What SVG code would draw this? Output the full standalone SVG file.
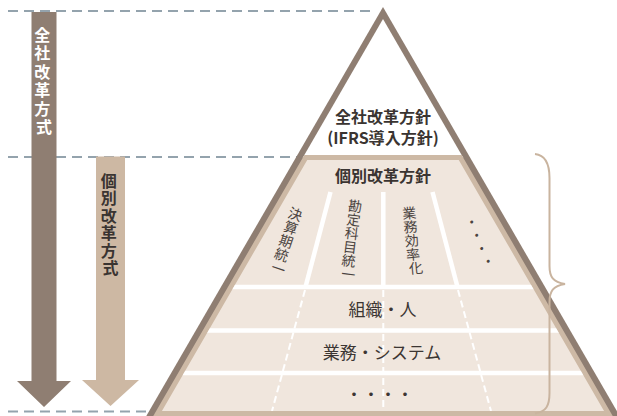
<svg xmlns="http://www.w3.org/2000/svg" width="617" height="416" viewBox="0 0 617 416">
  <style>
    .guide { fill: none; stroke: #94a3ad; stroke-width: 2; stroke-dasharray: 10 6; }
    .jp { font-family: 'Noto Sans CJK JP', 'Noto Sans', sans-serif; }
    .head { font-size: 16px; font-weight: bold; fill: #3a3431; text-anchor: middle; }
    .col { font-size: 14px; fill: #4a4340; text-anchor: middle; }
    .row { font-size: 17px; fill: #3c3633; text-anchor: middle; }
    .sep { stroke: #ffffff; stroke-width: 4.5; fill: none; }
    .sepdash { stroke: #ffffff; stroke-width: 2; stroke-dasharray: 7 4; fill: none; }
  </style>
  <defs>
    <clipPath id="inner">
      <polygon points="307.2,160 458.8,160 604,411 162,411"/>
    </clipPath>
  </defs>

  <g id="guides">
    <line class="guide" x1="8" y1="11" x2="371" y2="11"/>
    <line class="guide" x1="8" y1="157" x2="297" y2="157"/>
    <line class="guide" x1="8" y1="411.5" x2="150" y2="411.5"/>
  </g>

  <g id="arrow-zensha">
    <polygon points="31.5,12 56.5,12 56.5,381 71,381 44,407 17,381 31.5,381" fill="#8f7e72"/>
    <text class="jp head" style="fill:#ffffff">
      <tspan x="44" y="41">全</tspan>
      <tspan x="44" y="59.4">社</tspan>
      <tspan x="44" y="77.8">改</tspan>
      <tspan x="44" y="96.2">革</tspan>
      <tspan x="44" y="114.6">方</tspan>
      <tspan x="44" y="133">式</tspan>
    </text>
  </g>

  <g id="arrow-kobetsu">
    <polygon points="96,156.5 125,156.5 125,380 139,380 110.5,406 82,380 96,380" fill="#cdb8a3"/>
    <text class="jp head">
      <tspan x="110.5" y="187">個</tspan>
      <tspan x="110.5" y="204.4">別</tspan>
      <tspan x="110.5" y="221.8">改</tspan>
      <tspan x="110.5" y="239.2">革</tspan>
      <tspan x="110.5" y="256.6">方</tspan>
      <tspan x="110.5" y="274">式</tspan>
    </text>
  </g>

  <g id="pyramid">
    <polygon points="383,7 619.7,416 146.3,416" fill="#8f7e72"/>
    <polygon points="383,19 463.4,158 302.6,158" fill="#ffffff"/>
    <polygon points="305.8,157.5 460.2,157.5 608.4,413.5 157.6,413.5" fill="#f0e6dd" stroke="#cdb9a5" stroke-width="5" stroke-linejoin="miter"/>
  </g>

  <g id="connectors" clip-path="url(#inner)">
    <line class="sep" x1="150" y1="287" x2="620" y2="287"/>
    <line class="sep" x1="150" y1="330.5" x2="620" y2="330.5"/>
    <line class="sep" x1="150" y1="373" x2="620" y2="373"/>
    <line class="sep" x1="330.5" y1="192" x2="305.5" y2="287"/>
    <line class="sep" x1="383.3" y1="192" x2="383.3" y2="287"/>
    <line class="sep" x1="432.5" y1="192" x2="457.5" y2="287"/>
    <line class="sepdash" x1="305" y1="290" x2="272" y2="411"/>
    <line class="sepdash" x1="383.3" y1="290" x2="383.3" y2="411"/>
    <line class="sepdash" x1="458" y1="290" x2="491" y2="411"/>
  </g>

  <g id="top-policy">
    <text class="jp head" x="383" y="122.8">全社改革方針</text>
    <text class="jp head" x="383" y="144">(IFRS導入方針)</text>
  </g>

  <g id="individual-policy">
    <text class="jp head" x="383" y="181.7">個別改革方針</text>
  </g>

  <g id="col-kessanki" transform="translate(296.7,215) rotate(18.8)">
    <text class="jp col">
      <tspan x="0" y="5">決</tspan>
      <tspan x="0" y="19.3">算</tspan>
      <tspan x="0" y="33.6">期</tspan>
      <tspan x="0" y="47.9">統</tspan>
      <tspan x="0" y="62.2">一</tspan>
    </text>
  </g>

  <g id="col-kanjo" transform="translate(356.7,206.7) rotate(7)">
    <text class="jp col">
      <tspan x="0" y="5">勘</tspan>
      <tspan x="0" y="18.7">定</tspan>
      <tspan x="0" y="32.4">科</tspan>
      <tspan x="0" y="46.1">目</tspan>
      <tspan x="0" y="59.8">統</tspan>
      <tspan x="0" y="73.5">一</tspan>
    </text>
  </g>

  <g id="col-gyomu" transform="translate(410.7,213.3) rotate(-5.5)">
    <text class="jp col">
      <tspan x="0" y="5">業</tspan>
      <tspan x="0" y="18.8">務</tspan>
      <tspan x="0" y="32.6">効</tspan>
      <tspan x="0" y="46.4">率</tspan>
      <tspan x="0" y="60.2">化</tspan>
    </text>
  </g>

  <g id="col-etc" transform="translate(473.3,221.7) rotate(-20.6)">
    <text class="jp col">
      <tspan x="0" y="5">・</tspan>
      <tspan x="0" y="19.2">・</tspan>
      <tspan x="0" y="33.4">・</tspan>
      <tspan x="0" y="47.6">・</tspan>
    </text>
  </g>

  <g id="row-soshiki">
    <text class="jp row" x="382.5" y="316">組織・人</text>
  </g>
  <g id="row-system">
    <text class="jp row" x="382" y="359">業務・システム</text>
  </g>
  <g id="row-etc">
    <text class="jp row" x="379.5" y="401">・・・・</text>
  </g>

  <g id="brace">
    <path d="M535,154 C545,155 549.5,163 549.5,178 L549.5,266 C549.5,277 553,282 565,284 C553,286 549.5,291 549.5,302 L549.5,393 C549.5,406 546,412 535,413.5" fill="none" stroke="#c9b49f" stroke-width="2"/>
  </g>
</svg>
